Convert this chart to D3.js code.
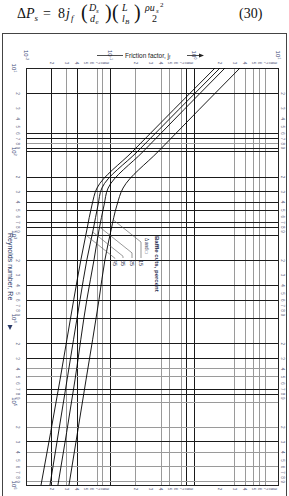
<!DOCTYPE html>
<html>
<head>
<meta charset="utf-8">
<script src="https://cdn.jsdelivr.net/npm/d3@7/dist/d3.min.js"></script>
<style>
body{margin:0;background:#fff;}
svg{display:block;}
</style>
</head>
<body>
<svg id="chart" width="289" height="496"></svg>
<script>
// Reynolds numbers where the curves were read
var reynolds = [10, 100, 275, 440, 875, 2000, 6000, 55000, 1000000];
// friction factor jf, one list per baffle cut
var cut45 = [1.78, 0.186, 0.070, 0.061, 0.053, 0.045, 0.037, 0.0254, 0.0151];
var cut35 = [2.04, 0.213, 0.080, 0.072, 0.063, 0.053, 0.044, 0.0308, 0.0193];
var cut25 = [2.34, 0.249, 0.095, 0.085, 0.074, 0.0645, 0.053, 0.0383, 0.0240];
var cut15 = [3.53, 0.376, 0.143, 0.121, 0.103, 0.087, 0.074, 0.0518, 0.0325];
var baffleCuts = ["45", "35", "25", "15"];

// grid lines that survive in the scan
var jfGridDark = [0.02, 0.04, 0.1, 0.8, 1];
var jfGridLight = [0.03, 0.07, 0.08, 0.2, 0.4, 0.5, 0.7, 3, 4, 5, 6, 7];
var reGridDark = [20, 60, 70, 90, 100, 200, 300, 400, 500, 700, 800, 1000, 2000, 4000, 6000, 10000, 20000, 30000, 70000, 80000, 300000];
var reGridLight = [80, 40000, 50000, 100000, 200000, 400000, 600000, 900000];

// tick labels
var jfDecades = [0.01, 0.1, 1, 10];
var jfDecadeExp = ["-2", "-1", "0", "1"];
var reDecades = [10, 100, 1000, 10000, 100000, 1000000];
var reDecadeExp = ["1", "2", "3", "4", "5", "6"];
var minorDigits = [2, 3, 4, 5, 6, 7, 8, 9];

var svg = d3.select("#chart");
svg.append("rect").attr("width", 289).attr("height", 496).attr("fill", "#fff");

var x = d3.scaleLog().domain([0.01, 10]).range([26, 278]);
var y = d3.scaleLog().domain([10, 1e6]).range([68, 485]);

function crisp(v){ return Math.round(v) + 0.5; }

// ---- equation
var eq = svg.append("g").attr("font-family", "'Liberation Serif','DejaVu Serif',serif").attr("fill", "#111");
function put(txt, px, py, size, italic){
    eq.append("text").attr("x", px).attr("y", py).attr("font-size", size)
      .attr("font-style", italic ? "italic" : "normal").text(txt);
}
put("Δ", 17, 18, 14, false);
put("P", 26, 18, 14, true);
put("s", 34.5, 21, 9, true);
put("=", 43, 18, 14, false);
put("8", 58, 18, 14, false);
put("j", 66, 18, 14, true);
put("f", 71, 21, 9, true);
put("(", 81, 19, 20, false);
put("D", 89, 11, 10, true);
put("s", 96, 13, 7, true);
put("d", 90, 22, 10, true);
put("e", 95.5, 24, 7, true);
put(")", 105, 19, 20, false);
put("(", 112, 19, 20, false);
put("L", 122, 11, 10, true);
put("l", 122, 22, 10, true);
put("B", 125, 24, 7, true);
put(")", 134, 19, 20, false);
put("ρu", 145, 11, 10, true);
put("s", 156, 13, 7, true);
put("2", 160, 7, 7, false);
put("2", 152, 22, 10, false);
put("(30)", 239, 18, 14, false);

// ---- outer frame
svg.append("rect").attr("x", 2.5).attr("y", 33.5).attr("width", 284).attr("height", 470)
    .attr("fill", "none").attr("stroke", "#444").attr("stroke-width", 1);

// ---- grid
var grid = svg.append("g");
grid.selectAll(".vl").data(jfGridLight).enter().append("line")
    .attr("x1", function(d){ return crisp(x(d)); }).attr("x2", function(d){ return crisp(x(d)); })
    .attr("y1", y(10)).attr("y2", y(1e6)).attr("stroke", "#9a9a9a").attr("stroke-width", 1);
grid.selectAll(".vd").data(jfGridDark).enter().append("line")
    .attr("x1", function(d){ return crisp(x(d)); }).attr("x2", function(d){ return crisp(x(d)); })
    .attr("y1", y(10)).attr("y2", y(1e6)).attr("stroke", "#1a1a1a").attr("stroke-width", 1);
grid.selectAll(".hl").data(reGridLight).enter().append("line")
    .attr("y1", function(d){ return crisp(y(d)); }).attr("y2", function(d){ return crisp(y(d)); })
    .attr("x1", x(0.01)).attr("x2", x(10)).attr("stroke", "#9a9a9a").attr("stroke-width", 1);
grid.selectAll(".hd").data(reGridDark).enter().append("line")
    .attr("y1", function(d){ return crisp(y(d)); }).attr("y2", function(d){ return crisp(y(d)); })
    .attr("x1", x(0.01)).attr("x2", x(10)).attr("stroke", "#1a1a1a").attr("stroke-width", 1);

svg.append("rect").attr("x", crisp(x(0.01))).attr("y", crisp(y(10)))
    .attr("width", Math.round(x(10) - x(0.01))).attr("height", Math.round(y(1e6) - y(10)))
    .attr("fill", "none").attr("stroke", "#222").attr("stroke-width", 1);

// ---- curves
svg.append("clipPath").attr("id", "plotclip").append("rect")
    .attr("x", x(0.01)).attr("y", y(10)).attr("width", x(10) - x(0.01)).attr("height", y(1e6) - y(10));

var series = [cut45, cut35, cut25, cut15];
var line = d3.line()
    .x(function(d){ return x(d[1]); })
    .y(function(d){ return y(d[0]); })
    .curve(d3.curveMonotoneY);

svg.append("g").attr("clip-path", "url(#plotclip)")
    .selectAll("path").data(series).enter().append("path")
    .attr("d", function(s){ return line(reynolds.map(function(r, i){ return [r, s[i]]; })); })
    .attr("fill", "none").attr("stroke", "#000").attr("stroke-width", 0.9);

// ---- leaders and cut labels
function jfAt(s, re){
    var lr = Math.log10(re);
    for (var i = 0; i < reynolds.length - 1; i++){
        var a = Math.log10(reynolds[i]), b = Math.log10(reynolds[i+1]);
        if (lr >= a && lr <= b){
            var t = (lr - a) / (b - a);
            return Math.pow(10, Math.log10(s[i]) + t * (Math.log10(s[i+1]) - Math.log10(s[i])));
        }
    }
    return s[s.length - 1];
}
var anchorY = [235, 232, 227, 220];
var labelX = [115, 123, 132, 141];
var lab = svg.append("g");
for (var i = 0; i < baffleCuts.length; i++){
    var ax = x(jfAt(series[i], y.invert(anchorY[i])));
    var by = anchorY[i] + (labelX[i] - ax) * 0.8;
    lab.append("polyline")
        .attr("points", [ax, anchorY[i], labelX[i], by, labelX[i], 258].join(" "))
        .attr("fill", "none").attr("stroke", "#555").attr("stroke-width", 0.6);
    lab.append("text")
        .attr("transform", "translate(" + labelX[i] + ",260) rotate(90)")
        .attr("dy", "0.35em").attr("font-size", 5.5)
        .attr("font-family", "'Liberation Sans',Arial,sans-serif").attr("fill", "#1e2a4a")
        .text(baffleCuts[i]);
}
lab.append("text").attr("transform", "translate(157,236) rotate(90)")
    .attr("dy", "0.35em").attr("font-size", 6).attr("font-weight", "bold")
    .attr("font-family", "'Liberation Sans',Arial,sans-serif").attr("fill", "#1e2a4a")
    .text("Baffle cuts, percent");
lab.append("text").attr("transform", "translate(147,238) rotate(90)")
    .attr("dy", "0.35em").attr("font-size", 4.5)
    .attr("font-family", "'Liberation Sans',Arial,sans-serif").attr("fill", "#1e2a4a")
    .text("Δ and □");

// ---- axes (minor digits on four sides)
var jfMinor = [], reMinor = [];
jfDecades.slice(0, 3).forEach(function(d){ minorDigits.forEach(function(k){ jfMinor.push(d * k); }); });
reDecades.slice(0, 5).forEach(function(d){ minorDigits.forEach(function(k){ reMinor.push(d * k); }); });
function digit(v){ return String(Math.round(v / Math.pow(10, Math.floor(Math.log10(v) + 1e-9)))); }

function styleAxis(g, shift){
    g.select(".domain").remove();
    g.selectAll("line").remove();
    g.selectAll("text")
        .attr("x", null).attr("y", null).attr("dy", "0.35em")
        .attr("text-anchor", "middle")
        .attr("transform", shift + " rotate(90)")
        .attr("font-size", 4.5).attr("fill", "#5a6480")
        .attr("font-family", "'Liberation Sans',Arial,sans-serif");
}
var axTop = svg.append("g").attr("transform", "translate(0," + y(10) + ")")
    .call(d3.axisTop(x).tickValues(jfMinor).tickFormat(digit).tickSize(0));
styleAxis(axTop, "translate(0,-5)");
var axBottom = svg.append("g").attr("transform", "translate(0," + y(1e6) + ")")
    .call(d3.axisBottom(x).tickValues(jfMinor).tickFormat(digit).tickSize(0));
styleAxis(axBottom, "translate(0,4)");
var axLeft = svg.append("g").attr("transform", "translate(" + x(0.01) + ",0)")
    .call(d3.axisLeft(y).tickValues(reMinor).tickFormat(digit).tickSize(0));
styleAxis(axLeft, "translate(-8,0)");
var axRight = svg.append("g").attr("transform", "translate(" + x(10) + ",0)")
    .call(d3.axisRight(y).tickValues(reMinor).tickFormat(digit).tickSize(0));
styleAxis(axRight, "translate(5,0)");

// decade labels
var dec = svg.append("g").attr("font-family", "'Liberation Sans',Arial,sans-serif").attr("fill", "#3a4a78");
jfDecades.forEach(function(d, i){
    var t = dec.append("text").attr("transform", "translate(" + x(d) + ",55) rotate(90)")
        .attr("text-anchor", "middle").attr("dy", "0.35em").attr("font-size", 6);
    t.append("tspan").text("10");
    t.append("tspan").attr("font-size", 4).attr("dy", "-0.6em").text(jfDecadeExp[i]);
});
reDecades.forEach(function(d, i){
    var t = dec.append("text").attr("transform", "translate(14," + y(d) + ") rotate(90)")
        .attr("text-anchor", "middle").attr("dy", "0.35em").attr("font-size", 6);
    t.append("tspan").text("10");
    t.append("tspan").attr("font-size", 4).attr("dy", "-0.6em").text(reDecadeExp[i]);
});

// ---- axis titles
var ttl = svg.append("g").attr("font-family", "'Liberation Sans',Arial,sans-serif").attr("fill", "#222");
ttl.append("line").attr("x1", 97).attr("x2", 123).attr("y1", 55.5).attr("y2", 55.5).attr("stroke", "#222").attr("stroke-width", 0.8);
var ft = ttl.append("text").attr("x", 125).attr("y", 57.5).attr("font-size", 6.5);
ft.append("tspan").text("Friction factor, j");
ft.append("tspan").attr("font-size", 4.5).attr("dy", 1.5).text("f");
ttl.append("line").attr("x1", 187).attr("x2", 200).attr("y1", 55.5).attr("y2", 55.5).attr("stroke", "#222").attr("stroke-width", 0.8);
ttl.append("polygon").attr("points", "199,53.5 204,55.5 199,57.5").attr("fill", "#222");

var rt = ttl.append("text").attr("transform", "translate(10,233) rotate(90)")
    .attr("dy", "0.35em").attr("font-size", 7).attr("fill", "#2b3a67");
rt.text("Reynolds number, Re");
ttl.append("polygon").attr("points", "7.5,325 12.5,325 10,330").attr("fill", "#2b3a67");
</script>
</body>
</html>
